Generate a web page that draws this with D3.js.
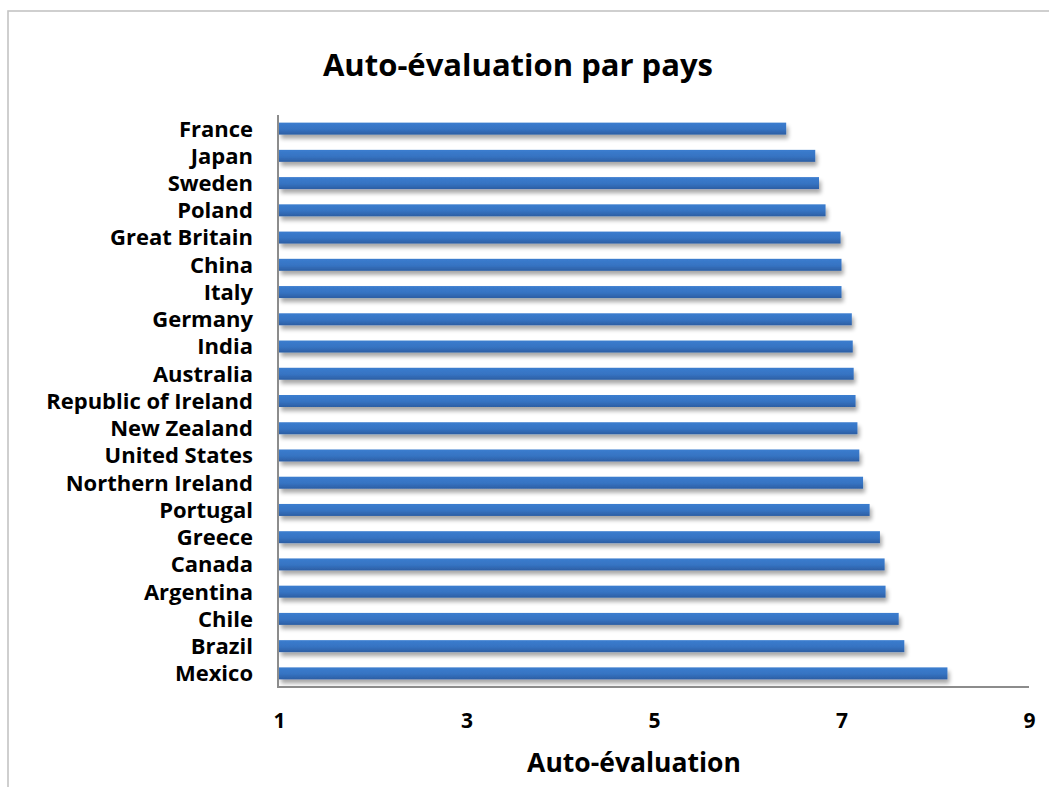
<!DOCTYPE html>
<html>
<head>
<meta charset="utf-8">
<script src="https://cdn.jsdelivr.net/npm/d3@7"></script>
<style>
  html, body { margin: 0; padding: 0; background: #fff; }
  svg { display: block; }
  text { font-family: "Open Sans", "Noto Sans", sans-serif; font-weight: bold; fill: #000; }
</style>
</head>
<body>
<svg id="chart" width="1049" height="787"></svg>
<script>
// Countries, top to bottom
const countries = [
  "France", "Japan", "Sweden", "Poland", "Great Britain", "China", "Italy",
  "Germany", "India", "Australia", "Republic of Ireland", "New Zealand",
  "United States", "Northern Ireland", "Portugal", "Greece", "Canada",
  "Argentina", "Chile", "Brazil", "Mexico"
];
// Mean self-assessment score per country
const scores = [
  6.41, 6.72, 6.76, 6.83, 6.99, 7.00, 7.00,
  7.11, 7.12, 7.13, 7.15, 7.17,
  7.19, 7.23, 7.30, 7.41, 7.46,
  7.47, 7.61, 7.67, 8.13
];
const xTicks = [1, 3, 5, 7, 9];

const chartTitle = "Auto-évaluation par pays";
const xTitle = "Auto-évaluation";

const svg = d3.select("#chart");
const margin = { left: 279, right: 1029, top: 115, bottom: 687 };

const x = d3.scaleLinear().domain([1, 9]).range([margin.left, margin.right]);
const y = d3.scaleBand().domain(countries).range([margin.top, margin.bottom])
  .paddingInner(0.56).paddingOuter(0.28);

const defs = svg.append("defs");
const grad = defs.append("linearGradient").attr("id", "barGrad")
  .attr("x1", 0).attr("y1", 0).attr("x2", 0).attr("y2", 1);
grad.append("stop").attr("offset", "0%").attr("stop-color", "#3b7dcf");
grad.append("stop").attr("offset", "55%").attr("stop-color", "#3673c2");
grad.append("stop").attr("offset", "100%").attr("stop-color", "#2c5ea3");

const shadow = defs.append("filter").attr("id", "barShadow")
  .attr("x", "-5%").attr("y", "-50%").attr("width", "115%").attr("height", "250%");
shadow.append("feGaussianBlur").attr("in", "SourceAlpha").attr("stdDeviation", 2.2).attr("result", "b");
shadow.append("feOffset").attr("in", "b").attr("dx", 2).attr("dy", 4).attr("result", "o");
shadow.append("feComponentTransfer").attr("in", "o").attr("result", "s")
  .append("feFuncA").attr("type", "linear").attr("slope", 0.35);
const merge = shadow.append("feMerge");
merge.append("feMergeNode").attr("in", "s");
merge.append("feMergeNode").attr("in", "SourceGraphic");

// Outer frame
svg.append("rect")
  .attr("x", 8).attr("y", 11).attr("width", 1100).attr("height", 900)
  .attr("fill", "none").attr("stroke", "#c4c4c4").attr("stroke-width", 1.6);

// Title
svg.append("text")
  .attr("x", 518).attr("y", 76)
  .attr("text-anchor", "middle")
  .style("font-size", "31px")
  .text(chartTitle);

// Bars
svg.append("g").selectAll("rect")
  .data(countries)
  .join("rect")
  .attr("x", x(1))
  .attr("y", d => y(d))
  .attr("width", (d, i) => x(scores[i]) - x(1))
  .attr("height", y.bandwidth())
  .attr("fill", "url(#barGrad)")
  .attr("filter", "url(#barShadow)");

// Category labels
svg.append("g").selectAll("text")
  .data(countries)
  .join("text")
  .attr("x", 253)
  .attr("y", d => y(d) + y.bandwidth() / 2)
  .attr("dy", "0.36em")
  .attr("text-anchor", "end")
  .style("font-size", "22px")
  .text(d => d);

// Axis lines
const axisColor = "#8c8c8c";
svg.append("line")
  .attr("x1", x(1) - 1).attr("x2", x(1) - 1)
  .attr("y1", margin.top).attr("y2", margin.bottom)
  .attr("stroke", axisColor).attr("stroke-width", 2);
svg.append("line")
  .attr("x1", x(1) - 2).attr("x2", margin.right)
  .attr("y1", margin.bottom).attr("y2", margin.bottom)
  .attr("stroke", axisColor).attr("stroke-width", 2);

// X tick labels
const xAxis = d3.axisBottom(x).tickValues(xTicks).tickSize(0).tickPadding(0);
const gx = svg.append("g").attr("transform", `translate(0,${margin.bottom})`).call(xAxis);
gx.select(".domain").remove();
gx.selectAll("text")
  .attr("y", 41).attr("dy", 0)
  .style("font-size", "21px")
  .style("font-family", "'Open Sans', 'Noto Sans', sans-serif")
  .style("font-weight", "bold")
  .attr("fill", "#000");

// X axis title
svg.append("text")
  .attr("x", 634).attr("y", 772)
  .attr("text-anchor", "middle")
  .style("font-size", "26.5px")
  .text(xTitle);
</script>
</body>
</html>
